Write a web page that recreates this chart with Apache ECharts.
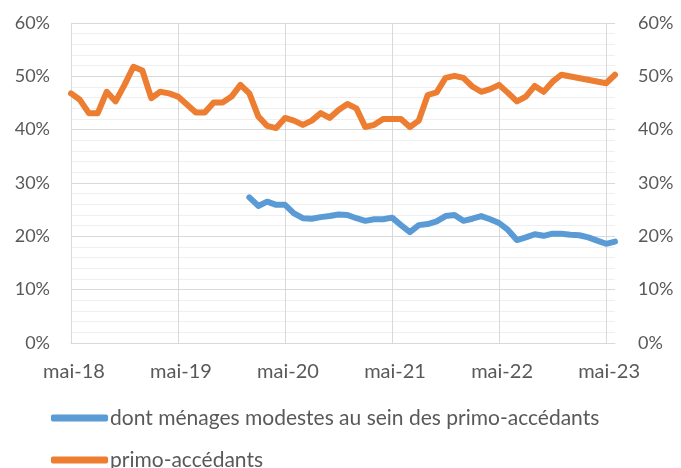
<!DOCTYPE html>
<html>
<head>
<meta charset="utf-8">
<script src="https://cdn.jsdelivr.net/npm/echarts@6/dist/echarts.min.js"></script>
<style>
  html, body { margin: 0; padding: 0; background: #fff; }
  #chart { width: 681px; height: 468px; }
</style>
</head>
<body>
<div id="chart"></div>
<script>
// mois de mai-18 à juin-23
const months = ['mai-18','juin-18','juil-18','août-18','sept-18','oct-18','nov-18','déc-18','janv-19','févr-19','mars-19','avr-19',
  'mai-19','juin-19','juil-19','août-19','sept-19','oct-19','nov-19','déc-19','janv-20','févr-20','mars-20','avr-20',
  'mai-20','juin-20','juil-20','août-20','sept-20','oct-20','nov-20','déc-20','janv-21','févr-21','mars-21','avr-21',
  'mai-21','juin-21','juil-21','août-21','sept-21','oct-21','nov-21','déc-21','janv-22','févr-22','mars-22','avr-22',
  'mai-22','juin-22','juil-22','août-22','sept-22','oct-22','nov-22','déc-22','janv-23','févr-23','mars-23','avr-23',
  'mai-23','juin-23']

const primoAccedants = [46.8, 45.6, 43.1, 43.1, 47.1, 45.3, 48.4, 51.8, 51.1, 45.9, 47.1, 46.8,
  46.2, 44.7, 43.2, 43.2, 45.1, 45.1, 46.2, 48.4, 46.8, 42.5, 40.7, 40.3,
  42.2, 41.7, 40.9, 41.7, 43.1, 42.2, 43.7, 44.8, 44.0, 40.5, 40.9, 42.0,
  42.0, 42.0, 40.5, 41.7, 46.5, 47.0, 49.7, 50.1, 49.7, 48.1, 47.1, 47.6,
  48.4, 46.9, 45.3, 46.2, 48.2, 47.1, 49.0, 50.3, null, null, null, null,
  48.7, 50.3]

const menagesModestes = [null, null, null, null, null, null, null, null, null, null, null, null,
  null, null, null, null, null, null, null, null, 27.3, 25.7, 26.5, 25.9,
  25.9, 24.3, 23.4, 23.3, 23.6, 23.8, 24.1, 24.0, 23.4, 22.9, 23.2, 23.2,
  23.5, 22.1, 20.8, 22.1, 22.3, 22.8, 23.8, 24.0, 22.9, 23.3, 23.8, 23.2,
  22.5, 21.2, 19.3, 19.8, 20.4, 20.1, 20.5, 20.5, 20.3, 20.2, 19.8, 19.2,
  18.6, 19.0]

const nomModestes = 'dont ménages modestes au sein des primo-accédants'
const nomPrimo = 'primo-accédants'

const chart = echarts.init(document.getElementById('chart'), null, { renderer: 'canvas' })

const font = 'Lato, "Noto Sans", sans-serif'
const textColor = '#595959'

const yAxisBase = {
  type: 'value',
  min: 0,
  max: 60,
  interval: 10,
  axisLine: { show: false },
  axisTick: { show: false },
  axisLabel: { formatter: '{value}%', color: textColor, fontSize: 18, fontFamily: font },
  splitLine: { lineStyle: { color: '#d9d9d9', width: 1 } },
  minorTick: { show: false, splitNumber: 5 },
  minorSplitLine: { show: true, lineStyle: { color: '#efefef', width: 1 } }
}

const legendBase = {
  left: 51,
  icon: 'roundRect',
  itemWidth: 57,
  itemHeight: 7,
  padding: 0,
  textStyle: { color: textColor, fontSize: 21, fontFamily: font, lineHeight: 22, padding: [0, 0, 0, -3] }
}

const option = {
  backgroundColor: '#fff',
  animation: false,
  grid: { left: 71, right: 66, top: 23, bottom: 125 },
  legend: [
    Object.assign({}, legendBase, { top: 407, data: [nomModestes] }),
    Object.assign({}, legendBase, { top: 449, data: [nomPrimo] })
  ],
  xAxis: {
    type: 'category',
    data: months,
    boundaryGap: false,
    axisLine: { lineStyle: { color: '#d9d9d9', width: 1 } },
    axisTick: { show: false },
    axisLabel: {
      interval: 11,
      color: textColor,
      fontSize: 20,
      fontFamily: font,
      margin: 19,
      padding: [0, 0, 0, 6]
    },
    splitLine: { show: true, interval: 11, lineStyle: { color: '#d9d9d9', width: 1 } }
  },
  yAxis: [
    Object.assign({}, yAxisBase, { position: 'left', axisLabel: Object.assign({}, yAxisBase.axisLabel, { margin: 21 }) }),
    Object.assign({}, yAxisBase, { position: 'right', axisLabel: Object.assign({}, yAxisBase.axisLabel, { margin: 23 }) })
  ],
  series: [
    {
      name: nomModestes,
      type: 'line',
      data: menagesModestes,
      showSymbol: false,
      connectNulls: false,
      lineStyle: { color: '#5B9BD5', width: 6, cap: 'round', join: 'round' },
      itemStyle: { color: '#5B9BD5' }
    },
    {
      name: nomPrimo,
      type: 'line',
      data: primoAccedants,
      showSymbol: false,
      connectNulls: true,
      lineStyle: { color: '#ED7D31', width: 6, cap: 'round', join: 'round' },
      itemStyle: { color: '#ED7D31' }
    }
  ]
}

chart.setOption(option)
</script>
</body>
</html>
